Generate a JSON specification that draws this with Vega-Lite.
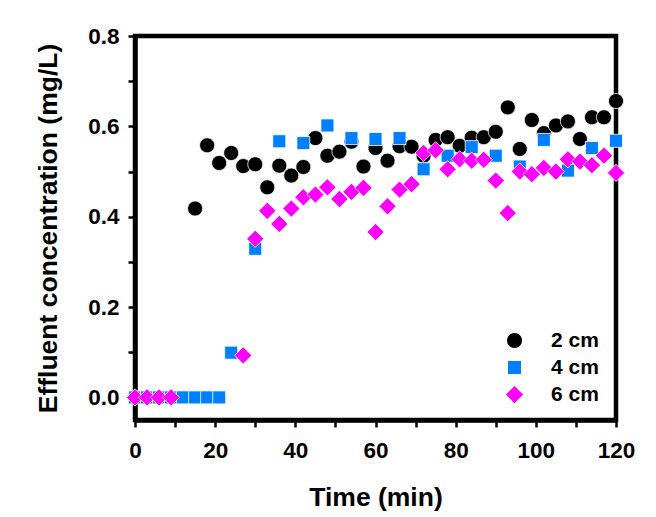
{
  "$schema": "https://vega.github.io/schema/vega-lite/v6.json",
  "width": 481,
  "height": 384,
  "autosize": {"type": "none"},
  "padding": {"left": 135, "top": 36, "right": 40, "bottom": 97},
  "background": "white",
  "config": {
    "font": "Liberation Sans",
    "view": {"stroke": "black", "strokeWidth": 4.5},
    "axis": {"grid": false, "domainColor": "black", "domainWidth": 4.5, "tickColor": "black", "tickWidth": 2.5, "tickSize": 7, "labelColor": "black", "labelFont": "Liberation Sans", "labelFontWeight": "bold", "labelFontSize": 22.5, "titleFont": "Liberation Sans", "titleFontWeight": "bold", "titleFontSize": 26.5, "titleColor": "black"}
  },
  "data": {"values": [
    {"t": 15, "c": 0.418, "s": "2 cm"},
    {"t": 18, "c": 0.558, "s": "2 cm"},
    {"t": 21, "c": 0.519, "s": "2 cm"},
    {"t": 24, "c": 0.541, "s": "2 cm"},
    {"t": 27, "c": 0.512, "s": "2 cm"},
    {"t": 30, "c": 0.516, "s": "2 cm"},
    {"t": 33, "c": 0.465, "s": "2 cm"},
    {"t": 36, "c": 0.513, "s": "2 cm"},
    {"t": 39, "c": 0.491, "s": "2 cm"},
    {"t": 42, "c": 0.51, "s": "2 cm"},
    {"t": 45, "c": 0.574, "s": "2 cm"},
    {"t": 48, "c": 0.535, "s": "2 cm"},
    {"t": 51, "c": 0.544, "s": "2 cm"},
    {"t": 54, "c": 0.566, "s": "2 cm"},
    {"t": 57, "c": 0.511, "s": "2 cm"},
    {"t": 60, "c": 0.552, "s": "2 cm"},
    {"t": 63, "c": 0.524, "s": "2 cm"},
    {"t": 66, "c": 0.556, "s": "2 cm"},
    {"t": 69, "c": 0.555, "s": "2 cm"},
    {"t": 72, "c": 0.535, "s": "2 cm"},
    {"t": 75, "c": 0.57, "s": "2 cm"},
    {"t": 78, "c": 0.576, "s": "2 cm"},
    {"t": 81, "c": 0.557, "s": "2 cm"},
    {"t": 84, "c": 0.575, "s": "2 cm"},
    {"t": 87, "c": 0.576, "s": "2 cm"},
    {"t": 90, "c": 0.588, "s": "2 cm"},
    {"t": 93, "c": 0.642, "s": "2 cm"},
    {"t": 96, "c": 0.55, "s": "2 cm"},
    {"t": 99, "c": 0.614, "s": "2 cm"},
    {"t": 102, "c": 0.585, "s": "2 cm"},
    {"t": 105, "c": 0.602, "s": "2 cm"},
    {"t": 108, "c": 0.611, "s": "2 cm"},
    {"t": 111, "c": 0.572, "s": "2 cm"},
    {"t": 114, "c": 0.62, "s": "2 cm"},
    {"t": 117, "c": 0.62, "s": "2 cm"},
    {"t": 120, "c": 0.656, "s": "2 cm"},
    {"t": 0, "c": 0, "s": "4 cm"},
    {"t": 3, "c": 0, "s": "4 cm"},
    {"t": 6, "c": 0, "s": "4 cm"},
    {"t": 9, "c": 0, "s": "4 cm"},
    {"t": 12, "c": 0, "s": "4 cm"},
    {"t": 15, "c": 0, "s": "4 cm"},
    {"t": 18, "c": 0, "s": "4 cm"},
    {"t": 21, "c": 0, "s": "4 cm"},
    {"t": 24, "c": 0.099, "s": "4 cm"},
    {"t": 30, "c": 0.329, "s": "4 cm"},
    {"t": 36, "c": 0.567, "s": "4 cm"},
    {"t": 42, "c": 0.563, "s": "4 cm"},
    {"t": 48, "c": 0.602, "s": "4 cm"},
    {"t": 54, "c": 0.574, "s": "4 cm"},
    {"t": 60, "c": 0.572, "s": "4 cm"},
    {"t": 66, "c": 0.574, "s": "4 cm"},
    {"t": 72, "c": 0.505, "s": "4 cm"},
    {"t": 78, "c": 0.535, "s": "4 cm"},
    {"t": 84, "c": 0.554, "s": "4 cm"},
    {"t": 90, "c": 0.535, "s": "4 cm"},
    {"t": 96, "c": 0.511, "s": "4 cm"},
    {"t": 102, "c": 0.57, "s": "4 cm"},
    {"t": 108, "c": 0.502, "s": "4 cm"},
    {"t": 114, "c": 0.552, "s": "4 cm"},
    {"t": 120, "c": 0.568, "s": "4 cm"},
    {"t": 0, "c": 0, "s": "6 cm"},
    {"t": 3, "c": 0, "s": "6 cm"},
    {"t": 6, "c": 0, "s": "6 cm"},
    {"t": 9, "c": 0, "s": "6 cm"},
    {"t": 27, "c": 0.093, "s": "6 cm"},
    {"t": 30, "c": 0.351, "s": "6 cm"},
    {"t": 33, "c": 0.413, "s": "6 cm"},
    {"t": 36, "c": 0.384, "s": "6 cm"},
    {"t": 39, "c": 0.418, "s": "6 cm"},
    {"t": 42, "c": 0.443, "s": "6 cm"},
    {"t": 45, "c": 0.449, "s": "6 cm"},
    {"t": 48, "c": 0.465, "s": "6 cm"},
    {"t": 51, "c": 0.439, "s": "6 cm"},
    {"t": 54, "c": 0.455, "s": "6 cm"},
    {"t": 57, "c": 0.464, "s": "6 cm"},
    {"t": 60, "c": 0.366, "s": "6 cm"},
    {"t": 63, "c": 0.423, "s": "6 cm"},
    {"t": 66, "c": 0.46, "s": "6 cm"},
    {"t": 69, "c": 0.472, "s": "6 cm"},
    {"t": 72, "c": 0.541, "s": "6 cm"},
    {"t": 75, "c": 0.547, "s": "6 cm"},
    {"t": 78, "c": 0.505, "s": "6 cm"},
    {"t": 81, "c": 0.527, "s": "6 cm"},
    {"t": 84, "c": 0.524, "s": "6 cm"},
    {"t": 87, "c": 0.526, "s": "6 cm"},
    {"t": 90, "c": 0.48, "s": "6 cm"},
    {"t": 93, "c": 0.408, "s": "6 cm"},
    {"t": 96, "c": 0.5, "s": "6 cm"},
    {"t": 99, "c": 0.494, "s": "6 cm"},
    {"t": 102, "c": 0.508, "s": "6 cm"},
    {"t": 105, "c": 0.5, "s": "6 cm"},
    {"t": 108, "c": 0.527, "s": "6 cm"},
    {"t": 111, "c": 0.522, "s": "6 cm"},
    {"t": 114, "c": 0.514, "s": "6 cm"},
    {"t": 117, "c": 0.535, "s": "6 cm"},
    {"t": 120, "c": 0.497, "s": "6 cm"}
  ]},
  "mark": {"type": "point", "filled": true, "opacity": 1, "stroke": "white", "strokeWidth": 0.8, "size": 225},
  "encoding": {
    "x": {"field": "t", "type": "quantitative", "scale": {"domain": [0, 120], "nice": false, "zero": false},
      "axis": {"title": "Time (min)", "values": [0,10,20,30,40,50,60,70,80,90,100,110,120], "labelExpr": "datum.value % 20 === 0 ? datum.label : ''", "labelFlush": false, "labelPadding": 12, "titlePadding": 23}},
    "y": {"field": "c", "type": "quantitative", "scale": {"domain": [-0.05, 0.8], "nice": false, "zero": false},
      "axis": {"title": "Effluent concentration (mg/L)", "values": [0,0.1,0.2,0.3,0.4,0.5,0.6,0.7,0.8], "format": ".1f", "labelExpr": "round(datum.value*10) % 2 === 0 ? datum.label : ''", "labelFlush": false, "labelPadding": 9, "titlePadding": 25}},
    "color": {"field": "s", "type": "nominal", "scale": {"domain": ["2 cm", "4 cm", "6 cm"], "range": ["#000000", "#0080ff", "#ff00ff"]},
      "legend": {"title": null, "orient": "none", "legendX": 369, "legendY": 294, "padding": 0, "labelFont": "Liberation Sans", "labelFontWeight": "bold", "labelFontSize": 21, "labelColor": "black", "labelOffset": 26, "rowPadding": 5, "symbolStrokeWidth": 0, "symbolSize": 225}},
    "shape": {"field": "s", "type": "nominal", "scale": {"domain": ["2 cm", "4 cm", "6 cm"], "range": ["M1,0A1,1,0,1,1,-1,0A1,1,0,1,1,1,0Z", "M-0.867,-0.867H0.867V0.867H-0.867Z", "M-1.15,0L0,-1.15L1.15,0L0,1.15Z"]}}
  }
}
